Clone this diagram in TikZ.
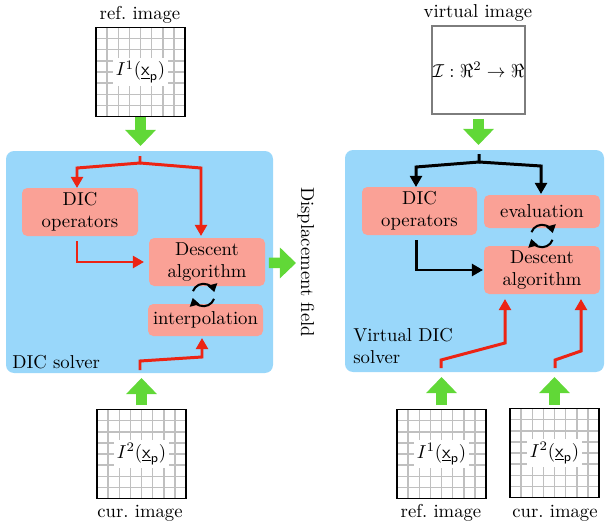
\documentclass[tikz,border=0pt]{standalone}
\usetikzlibrary{arrows.meta,calc}
\definecolor{solverblue}{RGB}{153,215,250}
\definecolor{opsalmon}{RGB}{250,161,150}
\definecolor{linered}{RGB}{236,36,20}
\definecolor{biggreen}{RGB}{97,216,55}
\definecolor{gridgray}{RGB}{192,192,192}
\definecolor{framegray}{RGB}{125,125,125}
\newcommand\pxu{0.535pt}
\tikzset{
  solver/.style={fill=solverblue, rounded corners=4.3pt, inner sep=0pt, outer sep=0pt},
  opbox/.style={fill=opsalmon, rounded corners=2.8pt, align=center, inner sep=0pt, outer sep=0pt, minimum width=116*\pxu},
  imgfr/.style={fill=white, inner sep=0pt, outer sep=0pt, minimum width=89*\pxu, minimum height=89*\pxu},
  gridln/.style={draw=gridgray, line width=0.8pt},
  rln/.style={draw=linered, line width=1.6pt, -{Triangle[width=6.4pt,length=6pt]}, line join=miter},
  bln/.style={draw=black, line width=1.6pt, -{Triangle[width=6.4pt,length=6pt]}, line join=miter},
  garrow/.style={draw=biggreen, line width=5.6pt, -{Triangle[width=16pt,length=8.6pt]}},
  cyc/.style={draw=black, line width=1.1pt, -{Triangle[width=5.2pt,length=4.2pt]}}
}
\newcommand\imgbox[4]{%
  \node[imgfr] (#1) at (#2,#3) {};
  \foreach \k in {1,...,7}{
    \draw[gridln] ($(#1.north west)!\k/8!(#1.north east)$) -- ($(#1.south west)!\k/8!(#1.south east)$);
    \draw[gridln] ($(#1.north west)!\k/8!(#1.south west)$) -- ($(#1.north east)!\k/8!(#1.south east)$);
  }
  \node[fill=white, inner sep=1.5pt] at (#1) {#4};
  \draw[line width=0.9pt] (#1.north west) rectangle (#1.south east);
}
\newcommand\cycarrows[1]{%
  \draw[cyc] (#1) ++(160:6pt) arc[start angle=160, end angle=15, radius=6pt];
  \draw[cyc] (#1) ++(-20:6pt) arc[start angle=-20, end angle=-165, radius=6pt];
}
\begin{document}
\begin{tikzpicture}[x=0.535pt,y=-0.535pt]
\useasboundingbox (0,0) rectangle (606,526);

% ---------- left part ----------
\node (lblRefL) at (140,15) {ref.\ image};
\imgbox{imgL1}{140.5}{72}{$I^1(\underline{\mathsf{x}}_{\mathsf{p}})$}

\node[solver, minimum width=267*\pxu, minimum height=222*\pxu] (solL) at (139.5,262) {};
\node[anchor=west, inner sep=0pt] (lblSolL) at (12,362) {DIC solver};

\node[opbox, minimum height=48*\pxu] (opsL) at (80,212) {DIC\\operators};
\node[opbox, minimum height=48*\pxu] (descL) at (207,262) {Descent\\algorithm};
\node[opbox, minimum height=32*\pxu, minimum width=115*\pxu] (interpL) at (205.5,320) {interpolation};
\coordinate (cycL) at (203.5,295);
\cycarrows{cycL}

\imgbox{imgL2}{141.5}{454}{$I^2(\underline{\mathsf{x}}_{\mathsf{p}})$}
\node (lblCurL) at (140,513) {cur.\ image};

\draw[garrow, shorten <=1*\pxu, shorten >=5*\pxu] (imgL1.south) -- (imgL1.south |- solL.north);
\draw[garrow, shorten <=4.5*\pxu, shorten >=5*\pxu] (imgL2.north) -- (imgL2.north |- solL.south);

\coordinate (stemL) at (140,156);
\coordinate (brL) at (140,163);
\draw[rln] (stemL) -- (brL) -- (77,168) -- ([xshift=-3*\pxu]opsL.north);
\draw[rln] (brL) -- (201,168) -- ([xshift=-6*\pxu,yshift=2*\pxu]descL.north);
\draw[rln] ([xshift=-3*\pxu,yshift=-5*\pxu]opsL.south) |- ([xshift=-5*\pxu]descL.west);
\coordinate (stemLb) at (140,370);
\draw[rln] (stemLb) -- (140,361) -- (202,357) -- ([xshift=-3.5*\pxu,yshift=-2*\pxu]interpL.south);

\node[rotate=-90] (disp) at (306,262) {Displacement field};
\coordinate (dispTip) at (296,263);
\draw[garrow] ([xshift=-2.2pt,yshift=-0.5pt]solL.east) -- (dispTip);

% ---------- right part ----------
\node (lblVirt) at (478,13) {virtual image};
\node[draw=framegray, line width=1pt, fill=white, minimum width=93*\pxu, minimum height=88*\pxu, inner sep=0pt] (virt) at (478.5,70) {$\mathcal{I}:\Re^2\to\Re$};

\node[solver, minimum width=259*\pxu, minimum height=222*\pxu] (solR) at (474.5,261) {};
\node[anchor=west, align=left, inner sep=0pt] (lblSolR) at (353,346) {Virtual DIC\\solver};

\node[opbox, minimum height=48*\pxu, minimum width=115*\pxu] (opsR) at (419.5,211) {DIC\\operators};
\node[opbox, minimum height=33*\pxu] (evalR) at (542,211.5) {evaluation};
\node[opbox, minimum height=48*\pxu] (descR) at (542,270) {Descent\\algorithm};
\coordinate (cycR) at (542,236);
\cycarrows{cycR}

\imgbox{imgR1}{441.5}{454}{$I^1(\underline{\mathsf{x}}_{\mathsf{p}})$}
\imgbox{imgR2}{554.5}{453}{$I^2(\underline{\mathsf{x}}_{\mathsf{p}})$}
\node (lblRefR) at (441,513) {ref.\ image};
\node (lblCurR) at (555,513) {cur.\ image};

\draw[garrow, shorten <=4*\pxu, shorten >=5*\pxu] (virt.south) -- (virt.south |- solR.north);
\draw[garrow, shorten <=4.5*\pxu, shorten >=5*\pxu] (imgR1.north) -- (imgR1.north |- solR.south);
\draw[garrow, shorten <=4*\pxu, shorten >=5*\pxu] (imgR2.north) -- (imgR2.north |- solR.south);

\coordinate (stemR) at (479,154);
\coordinate (brR) at (479,162);
\draw[bln] (stemR) -- (brR) -- (416,167) -- ([xshift=-3.5*\pxu]opsR.north);
\draw[bln] (brR) -- (541,166) -- ([xshift=-1*\pxu,yshift=1*\pxu]evalR.north);
\draw[bln] ([xshift=-3.5*\pxu,yshift=-5*\pxu]opsR.south) |- ([xshift=-1*\pxu]descR.west);

\coordinate (stemRa) at (441,368);
\coordinate (stemRb) at (555,368);
\draw[rln] (stemRa) -- (441,360) -- (505,343) -- ([xshift=-37*\pxu,yshift=-5*\pxu]descR.south);
\draw[rln] (stemRb) -- (555,360) -- (581,351) -- ([xshift=39*\pxu,yshift=-5*\pxu]descR.south);
\end{tikzpicture}
\end{document}
